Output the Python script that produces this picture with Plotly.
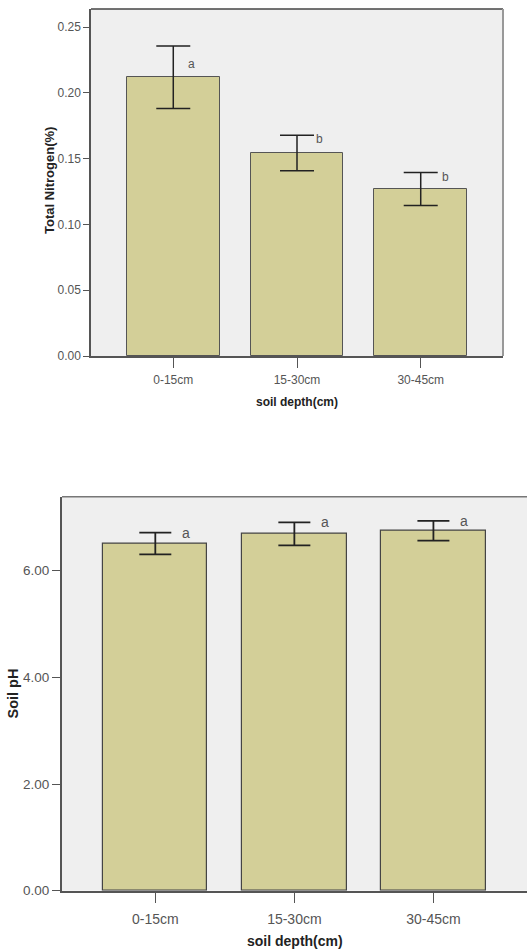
import plotly.graph_objects as go

# ---- data ----
depths = ["0-15cm", "15-30cm", "30-45cm"]
nitrogen_mean = [0.2118, 0.1543, 0.1269]
nitrogen_err = [0.0238, 0.0135, 0.0125]
nitrogen_letters = ["a", "b", "b"]
ph_mean = [6.51, 6.69, 6.75]
ph_err = [0.205, 0.215, 0.185]
ph_letters = ["a", "a", "a"]
n_ticks = [0.00, 0.05, 0.10, 0.15, 0.20, 0.25]
n_ticktext = ["0.00", "0.05", "0.10", "0.15", "0.20", "0.25"]
ph_ticks = [0, 2, 4, 6]
ph_ticktext = ["0.00", "2.00", "4.00", "6.00"]

W, H = 527, 951
H_EFF = 943  # rendered paper height observed in the screenshot
BAR = "#d3cf98"
BG = "#efefef"
FONT = "Liberation Sans, Arial, sans-serif"

def px(x):
    return x / W

def py(y):
    return 1 - y / H_EFF

fig = go.Figure()
fig.add_trace(go.Bar(
    x=depths, y=nitrogen_mean, width=0.75, xaxis="x", yaxis="y",
    marker=dict(color=BAR, line=dict(color="#555555", width=1)),
    error_y=dict(type="data", array=nitrogen_err, visible=True,
                 color="#222222", thickness=1.5, width=17),
    showlegend=False, hoverinfo="skip"))
fig.add_trace(go.Bar(
    x=depths, y=ph_mean, width=0.75, xaxis="x2", yaxis="y2",
    marker=dict(color=BAR, line=dict(color="#444444", width=1.2)),
    error_y=dict(type="data", array=ph_err, visible=True,
                 color="#222222", thickness=1.8, width=16),
    showlegend=False, hoverinfo="skip"))

top_dom_x = [px(91), px(503)]
top_dom_y = [py(356), py(9)]
bot_dom_x = [px(62), 1.0]
bot_dom_y = [py(890.7), py(496.7)]

axis_common = dict(showgrid=False, zeroline=False, showline=True,
                   linecolor="#555555", ticks="outside", tickcolor="#555555")

fig.update_layout(
    width=W, height=H, margin=dict(l=0, r=0, t=0, b=0),
    paper_bgcolor="white", plot_bgcolor=BG,
    font=dict(family=FONT),
    bargap=0,
    xaxis=dict(domain=top_dom_x, anchor="y", type="category",
               range=[-0.665, 2.665], ticklen=10, linewidth=1.5,
               ticklabelstandoff=2,
               tickfont=dict(size=12, color="#555555"), **axis_common),
    yaxis=dict(domain=top_dom_y, anchor="x", range=[0, 0.2637],
               tickvals=n_ticks, ticktext=n_ticktext, ticklen=6, linewidth=1.5,
               tickfont=dict(size=12, color="#555555"), **axis_common),
    xaxis2=dict(domain=bot_dom_x, anchor="y2", type="category",
                range=[-0.671, 2.673], ticklen=10, linewidth=2,
                ticklabelstandoff=4,
                tickfont=dict(size=14, color="#555555"), **axis_common),
    yaxis2=dict(domain=bot_dom_y, anchor="x2", range=[0, 7.388],
                tickvals=ph_ticks, ticktext=ph_ticktext, ticklen=8, linewidth=2,
                ticklabelstandoff=0,
                tickfont=dict(size=13.5, color="#555555"), **axis_common),
)

shapes = [
    dict(type="line", xref="paper", yref="paper", x0=top_dom_x[0], x1=top_dom_x[1],
         y0=top_dom_y[1], y1=top_dom_y[1], line=dict(color="#444444", width=1.5)),
    dict(type="line", xref="paper", yref="paper", x0=top_dom_x[1], x1=top_dom_x[1],
         y0=top_dom_y[0], y1=top_dom_y[1], line=dict(color="#999999", width=2)),
    dict(type="line", xref="paper", yref="paper", x0=bot_dom_x[0], x1=bot_dom_x[1],
         y0=bot_dom_y[1], y1=bot_dom_y[1], line=dict(color="#777777", width=1.5)),
]
fig.update_layout(shapes=shapes)

ann = []
top_shift = [(18, -18), (22, -4), (25, -4)]
for i, (m, e, L) in enumerate(zip(nitrogen_mean, nitrogen_err, nitrogen_letters)):
    ann.append(dict(x=depths[i], y=m + e, xref="x", yref="y", text=L,
                    xanchor="center", yanchor="middle",
                    showarrow=False, xshift=top_shift[i][0], yshift=top_shift[i][1],
                    font=dict(size=12, color="#555555")))
for i, (m, e, L) in enumerate(zip(ph_mean, ph_err, ph_letters)):
    ann.append(dict(x=depths[i], y=m + e, xref="x2", yref="y2", text=L,
                    xanchor="center", yanchor="middle",
                    showarrow=False, xshift=31, yshift=0,
                    font=dict(size=14, color="#555555")))
title_common = dict(xref="paper", yref="paper", showarrow=False,
                    xanchor="center", yanchor="middle")
ann += [
    dict(x=px(297), y=py(402), text="<b>soil depth(cm)</b>",
         font=dict(size=12, color="#222222"), **title_common),
    dict(x=px(49), y=py(181), text="<b>Total Nitrogen(%)</b>", textangle=-90,
         font=dict(size=13, color="#222222"), **title_common),
    dict(x=px(295), y=py(941), text="<b>soil depth(cm)</b>",
         font=dict(size=14, color="#222222"), **title_common),
    dict(x=px(12), y=py(693.5), text="<b>Soil pH</b>", textangle=-90,
         font=dict(size=14.5, color="#222222"), **title_common),
]
fig.update_layout(annotations=ann)

fig.write_html("out.html",
               post_script="document.body.style.margin='0';")
